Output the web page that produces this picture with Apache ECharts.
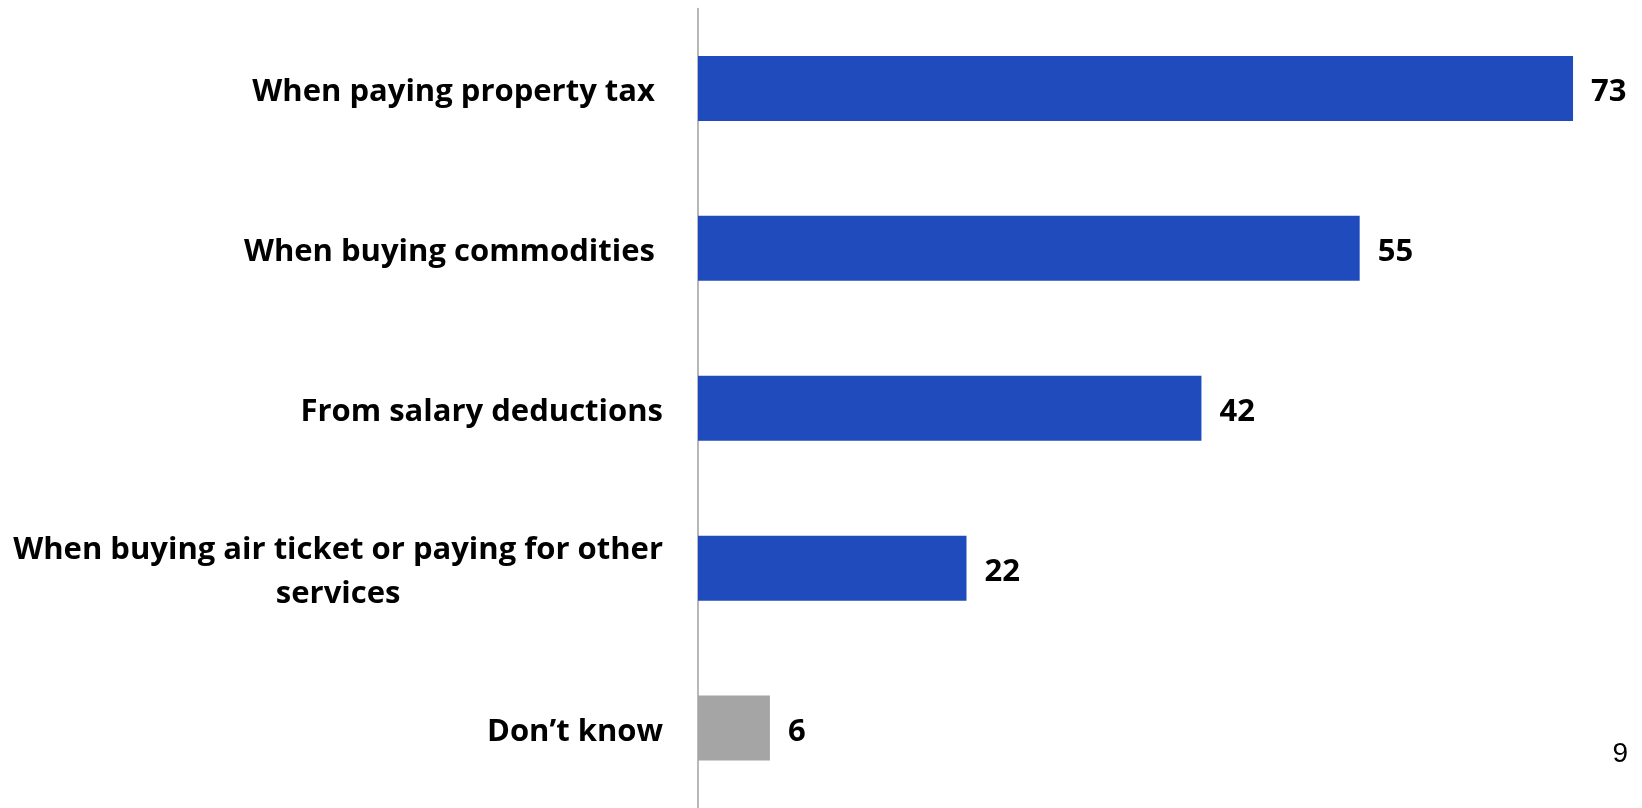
<!DOCTYPE html>
<html><head><meta charset="utf-8">
<script src="https://cdn.jsdelivr.net/npm/echarts@6/dist/echarts.min.js"></script>
<style>html,body{margin:0;padding:0;background:#fff}#c{width:1642px;height:808px}</style>
</head><body><div id="c"></div>
<script>
const categories = ["When paying property tax ", "When buying commodities ", "From salary deductions", "When buying air ticket or paying for other\nservices", "Don\u2019t know"];
const values = [73, 55.2, 42, 22.4, 6];
const colors = ["#1f4bbd", "#1f4bbd", "#1f4bbd", "#1f4bbd", "#a5a5a5"];
const pageNumber = "9";

const chart = echarts.init(document.getElementById('c'));
chart.setOption({
  animation: false,
  grid: {left: 698, top: 8.5, height: 804.5, right: 33},
  xAxis: {type: 'value', min: 0, max: 76, show: false},
  yAxis: {
    type: 'category', data: categories, inverse: true,
    axisLine: {show: true, lineStyle: {color: '#a0a0a0', width: 1.5}},
    axisTick: {show: false},
    axisLabel: {
      margin: 35, color: '#000', fontFamily: 'Open Sans', fontWeight: 'bold', fontSize: 31, lineHeight: 44,
      align: 'right', padding: [8, 0, 0, 0],
      formatter: v => v.split('\n').map(s => '{c|' + s + '}').join('\n'),
      rich: {c: {align: 'center', color: '#000', fontFamily: 'Open Sans', fontWeight: 'bold', fontSize: 31, lineHeight: 44}}
    }
  },
  series: [{
    type: 'bar', barWidth: 65,
    data: values.map((v, i) => ({value: v, itemStyle: {color: colors[i]}})),
    label: {show: true, position: 'right', distance: 18, offset: [0, 4], formatter: p => Math.round(p.value),
      color: '#000', fontFamily: 'Open Sans', fontWeight: 'bold', fontSize: 31}
  }],
  graphic: [{type: 'text', right: 14, top: 740, style: {text: pageNumber, font: '28px "Liberation Sans"', fill: '#000'}}]
});
</script></body></html>
